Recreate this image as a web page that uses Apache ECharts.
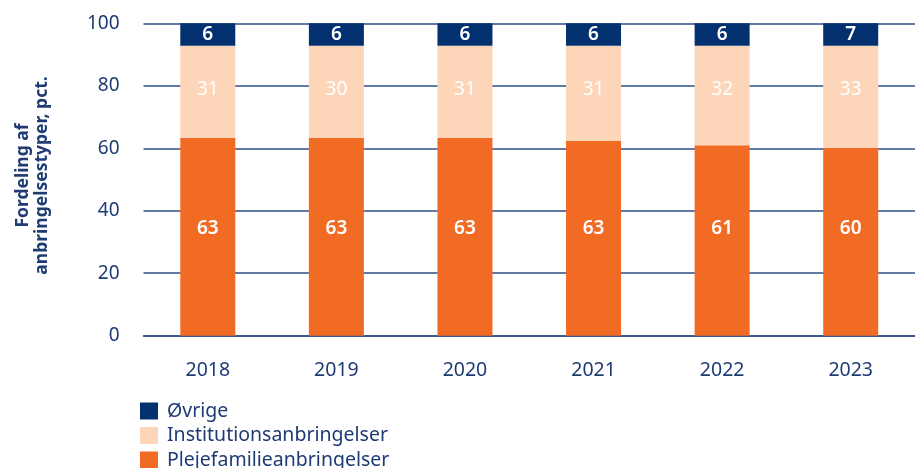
<!DOCTYPE html>
<html>
<head>
<meta charset="utf-8">
<script src="https://cdn.jsdelivr.net/npm/echarts@6/dist/echarts.min.js"></script>
<style>
  html, body { margin: 0; padding: 0; background: #fff; }
  #chart { width: 915px; height: 468px; }
</style>
</head>
<body>
<div id="chart"></div>
<script>
// år på x-aksen
const years = ['2018', '2019', '2020', '2021', '2022', '2023']

// søjlehøjder (pct.)
const plejefamilie = [63.4, 63.4, 63.4, 62.3, 61.0, 60.2]
const institution = [29.4, 29.4, 29.4, 30.5, 31.8, 32.6]
const ovrige = [7.2, 7.2, 7.2, 7.2, 7.2, 7.2]

// tal der står i søjlerne
const plejefamilieLabels = [63, 63, 63, 63, 61, 60]
const institutionLabels = [31, 30, 31, 31, 32, 33]
const ovrigeLabels = [6, 6, 6, 6, 6, 7]

const yTicks = [0, 20, 40, 60, 80, 100]

const NAVY = '#03306f'
const PEACH = '#fdd5b9'
const ORANGE = '#f26b24'
const TEXT = '#1f3b73'
const LINE = '#2f4f86'
const FONT = '"Noto Sans", "Open Sans", sans-serif'

const chart = echarts.init(document.getElementById('chart'))

const makeLabel = (labels, pos, dist, weight) => ({
  show: true,
  position: pos,
  distance: dist,
  color: '#fff',
  fontFamily: FONT,
  fontSize: 19,
  fontWeight: weight,
  lineHeight: 20,
  formatter: (p) => String(labels[p.dataIndex]),
})

chart.setOption({
  animation: false,
  textStyle: { fontFamily: FONT },
  grid: {
    left: 143.5,
    width: 780,
    top: 23.3,
    bottom: 132.3,
  },
  legend: {
    orient: 'vertical',
    left: 140,
    top: 401,
    padding: 0,
    height: 80,
    itemWidth: 18,
    itemHeight: 17,
    itemGap: 4.5,
    icon: 'rect',
    data: ['Øvrige', 'Institutionsanbringelser', 'Plejefamilieanbringelser'],
    textStyle: {
      color: TEXT,
      fontFamily: FONT,
      fontSize: 19.5,
      lineHeight: 17,
      padding: [0, 0, 0, 4],
    },
  },
  xAxis: {
    type: 'category',
    data: years,
    axisLine: { show: true, lineStyle: { color: LINE, width: 1.5 } },
    axisTick: { show: false },
    axisLabel: {
      color: TEXT,
      fontFamily: FONT,
      fontSize: 19.5,
      margin: 25,
    },
  },
  yAxis: {
    type: 'value',
    min: yTicks[0],
    max: yTicks[yTicks.length - 1],
    interval: 20,
    name: 'Fordeling af\nanbringelsestyper, pct.',
    nameLocation: 'middle',
    nameGap: 92,
    nameRotate: 90,
    nameTextStyle: {
      color: TEXT,
      fontFamily: FONT,
      fontSize: 17.5,
      fontWeight: 'bold',
      lineHeight: 19,
      padding: [0, 0, 0, 8],
    },
    axisLine: { show: false },
    axisTick: { show: false },
    axisLabel: {
      color: TEXT,
      fontFamily: FONT,
      fontSize: 19,
      margin: 24,
    },
    splitLine: { lineStyle: { color: LINE, width: 1.5 } },
  },
  series: [
    {
      name: 'Plejefamilieanbringelser',
      type: 'bar',
      stack: 'total',
      barWidth: 55,
      data: plejefamilie,
      itemStyle: { color: ORANGE },
      label: makeLabel(plejefamilieLabels, 'insideBottom', 97, 600),
    },
    {
      name: 'Institutionsanbringelser',
      type: 'bar',
      stack: 'total',
      barWidth: 55,
      data: institution,
      itemStyle: { color: PEACH },
      label: makeLabel(institutionLabels, 'insideTop', 34, 'normal'),
    },
    {
      name: 'Øvrige',
      type: 'bar',
      stack: 'total',
      barWidth: 55,
      data: ovrige,
      itemStyle: { color: NAVY },
      label: makeLabel(ovrigeLabels, 'insideTop', 1.5, 600),
    },
  ],
})
</script>
</body>
</html>
